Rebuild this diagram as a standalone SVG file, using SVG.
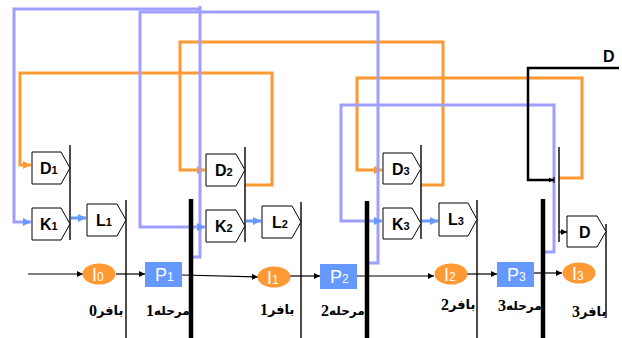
<svg xmlns="http://www.w3.org/2000/svg" width="622" height="338" viewBox="0 0 622 338">
<style>
.bg{fill:#ffffff}
.or{fill:none;stroke:#ff9933;stroke-width:3}
.bl{fill:none;stroke:#9f9fff;stroke-width:3}
.kl{fill:none;stroke:#6699ff;stroke-width:3}
.flow{fill:none;stroke:#000;stroke-width:1.2}
.reg{fill:none;stroke:#000;stroke-width:1.4}
.bar{fill:none;stroke:#000;stroke-width:4.5}
.box{fill:#fff;stroke:#000;stroke-width:1}
.lbl{font-family:"Liberation Sans",Arial,sans-serif;font-weight:bold;font-size:16px;fill:#000}
.sub{font-size:11px}
.ell{fill:#ff9933}
.pb{fill:#6699ff}
.wt{font-family:"Liberation Sans",Arial,sans-serif;font-size:18px;fill:#fff}
.fa{font-family:"DejaVu Sans","Liberation Serif",sans-serif;font-weight:bold;font-size:13px;fill:#000;text-anchor:start}
.fm{font-size:12px}
.dg{font-family:"Liberation Serif","Times New Roman",serif;font-weight:bold;font-size:16px;fill:#000;text-anchor:end}
</style>
<defs>
<marker id="ab" viewBox="0 0 10 10" refX="10" refY="5" markerWidth="8" markerHeight="6" markerUnits="userSpaceOnUse" orient="auto"><path d="M0,0 L10,5 L0,10 z" fill="#000"/></marker>
<marker id="ao" viewBox="0 0 10 10" refX="10" refY="5" markerWidth="9" markerHeight="8" markerUnits="userSpaceOnUse" orient="auto"><path d="M0,0 L10,5 L0,10 z" fill="#ff9933"/></marker>
<marker id="au" viewBox="0 0 10 10" refX="10" refY="5" markerWidth="9" markerHeight="8" markerUnits="userSpaceOnUse" orient="auto"><path d="M0,0 L10,5 L0,10 z" fill="#6699ff"/></marker>
<marker id="tee" viewBox="0 0 10 10" refX="9" refY="5" markerWidth="6" markerHeight="8" markerUnits="userSpaceOnUse" orient="auto"><path d="M0,1 L9,5 L0,9 z M8,0 H10 V10 H8 z" fill="#000"/></marker>
</defs>
<rect class="bg" x="0" y="0" width="622" height="338"/>

<g id="connectors">
  <path class="or" d="M245,185 H272 V73 H20 V165 H31" marker-end="url(#ao)"/>
  <path class="or" d="M421,185 H443 V42 H180 V170 H205" marker-end="url(#ao)"/>
  <path class="or" d="M559,178 H582 V78 H357 V170 H382" marker-end="url(#ao)"/>
  <path class="bl" d="M192,257 H200 V6"/>
  <path class="bl" d="M200,9 H14 V222 H31" marker-end="url(#au)"/>
  <path class="bl" d="M369,263 H378 V12 H140 V227 H205" marker-end="url(#au)"/>
  <path class="bl" d="M545,252 H554 V105 H341 V221 H382" marker-end="url(#au)"/>
  <path d="M619,68 H528 V180 H554" fill="none" stroke="#000" stroke-width="2.5" marker-end="url(#tee)"/>
  <path d="M559,232 H567" fill="none" stroke="#000" stroke-width="1.5" marker-end="url(#ab)"/>
  <path class="kl" d="M71,218 H86" marker-end="url(#au)"/>
  <path class="kl" d="M246,221 H261" marker-end="url(#au)"/>
  <path class="kl" d="M422,221 H438" marker-end="url(#au)"/>
  <path class="flow" d="M28,274 H83" marker-end="url(#ab)"/>
  <path class="flow" d="M116,274 H145" marker-end="url(#ab)"/>
  <path class="flow" d="M182,275 L258,277" marker-end="url(#ab)"/>
  <path class="flow" d="M290,276 H320" marker-end="url(#ab)"/>
  <path class="flow" d="M357,276 L434,276" marker-end="url(#ab)"/>
  <path class="flow" d="M467,274 H497" marker-end="url(#ab)"/>
  <path class="flow" d="M534,273 H562" marker-end="url(#ab)"/>
  <path class="reg" d="M70,145 V240"/>
  <path class="reg" d="M126,200 V338"/>
  <path class="reg" d="M245,147 V242"/>
  <path class="reg" d="M301,202 V338"/>
  <path class="reg" d="M421,145 V239"/>
  <path class="reg" d="M477,200 V338"/>
  <path class="reg" d="M559,147 V242"/>
  <path class="reg" d="M606,224 V318"/>
  <path class="bar" d="M191,199 V338"/>
  <path class="bar" d="M367,201 V338"/>
  <path class="bar" d="M543,199 V338"/>
</g>

<g id="D1"><path class="box" d="M32,152 H61 L70,168 L61,184 H32 z"/><text class="lbl" x="40" y="174">D<tspan class="sub">1</tspan></text></g>
<g id="K1"><path class="box" d="M32,208 H61 L70,224 L61,240 H32 z"/><text class="lbl" x="40" y="230">K<tspan class="sub">1</tspan></text></g>
<g id="L1"><path class="box" d="M87,204 H117 L126,220 L117,236 H87 z"/><text class="lbl" x="96" y="226">L<tspan class="sub">1</tspan></text></g>

<g id="D2"><path class="box" d="M206,154 H236 L245,170 L236,186 H206 z"/><text class="lbl" x="215" y="176">D<tspan class="sub">2</tspan></text></g>
<g id="K2"><path class="box" d="M206,210 H236 L245,226 L236,242 H206 z"/><text class="lbl" x="215" y="232">K<tspan class="sub">2</tspan></text></g>
<g id="L2"><path class="box" d="M262,206 H292 L301,222 L292,238 H262 z"/><text class="lbl" x="272" y="228">L<tspan class="sub">2</tspan></text></g>

<g id="D3"><path class="box" d="M383,153 H412 L421,168.5 L412,184 H383 z"/><text class="lbl" x="392" y="175">D<tspan class="sub">3</tspan></text></g>
<g id="K3"><path class="box" d="M383,208 H412 L421,223.5 L412,239 H383 z"/><text class="lbl" x="392" y="230">K<tspan class="sub">3</tspan></text></g>
<g id="L3"><path class="box" d="M439,203 H468 L477,219.5 L468,236 H439 z"/><text class="lbl" x="448" y="225">L<tspan class="sub">3</tspan></text></g>

<g id="Dout"><path class="box" d="M567,216 H597 L606,231.5 L597,247 H567 z"/><text class="lbl" x="579" y="238">D</text></g>
<g id="Dlabel"><text class="lbl" x="603" y="62">D</text></g>

<g id="I0"><ellipse class="ell" cx="99" cy="274" rx="16.5" ry="10.5"/><text class="wt" x="92" y="281">I<tspan font-size="12">0</tspan></text></g>
<g id="P1"><rect class="pb" x="145" y="262" width="37" height="25"/><text class="wt" x="155" y="281">P<tspan font-size="12">1</tspan></text></g>
<g id="I1"><ellipse class="ell" cx="274" cy="277" rx="16.5" ry="10.5"/><text class="wt" x="267" y="284">I<tspan font-size="12">1</tspan></text></g>
<g id="P2"><rect class="pb" x="320" y="264" width="37" height="25"/><text class="wt" x="330" y="283">P<tspan font-size="12">2</tspan></text></g>
<g id="I2"><ellipse class="ell" cx="451" cy="274" rx="16.5" ry="10.5"/><text class="wt" x="444" y="281">I<tspan font-size="12">2</tspan></text></g>
<g id="P3"><rect class="pb" x="497" y="262" width="37" height="25"/><text class="wt" x="507" y="281">P<tspan font-size="12">3</tspan></text></g>
<g id="I3"><ellipse class="ell" cx="579" cy="273" rx="16.5" ry="10.5"/><text class="wt" x="572" y="280">I<tspan font-size="12">3</tspan></text></g>

<g id="labels">
  <text class="dg" x="97" y="316">0</text><text class="fa" x="97" y="315">بافر</text>
  <text class="dg" x="154" y="316">1</text><text class="fa fm" x="154" y="315">مرحله</text>
  <text class="dg" x="268" y="315">1</text><text class="fa" x="268" y="314">بافر</text>
  <text class="dg" x="329" y="316">2</text><text class="fa fm" x="329" y="315">مرحله</text>
  <text class="dg" x="449" y="310">2</text><text class="fa" x="449" y="309">بافر</text>
  <text class="dg" x="506" y="311">3</text><text class="fa fm" x="506" y="310">مرحله</text>
  <text class="dg" x="580" y="317">3</text><text class="fa" x="580" y="316">بافر</text>
</g>
</svg>
